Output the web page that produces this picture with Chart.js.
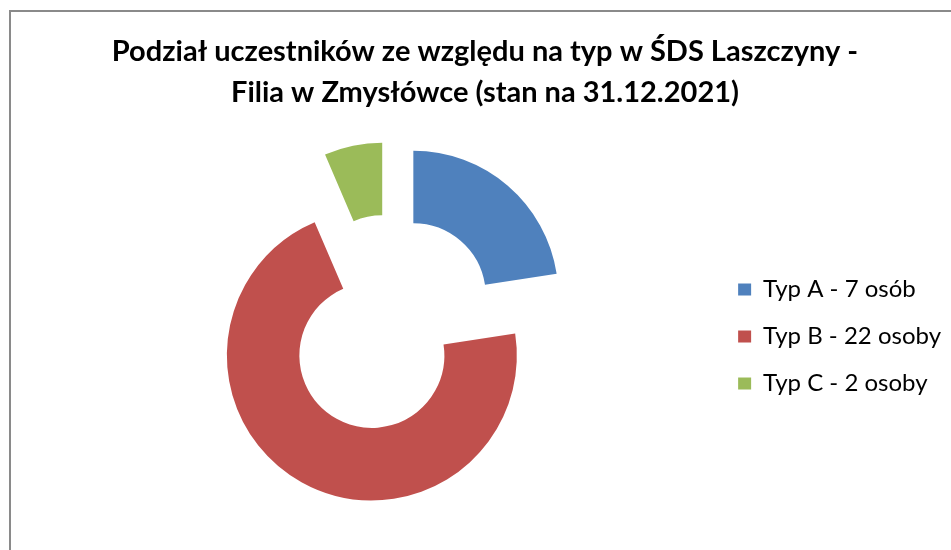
<!DOCTYPE html>
<html>
<head>
<meta charset="utf-8">
<script src="https://cdn.jsdelivr.net/npm/chart.js@4/dist/chart.umd.min.js"></script>
<style>
  html, body { margin: 0; padding: 0; background: #fff; overflow: hidden; }
  #frame { position: absolute; left: 9px; top: 10px; width: 980px; height: 600px; border: 2px solid #8a8a8a; box-sizing: border-box; }
  #wrap { position: absolute; left: 0; top: 0; width: 951px; height: 550px; }
</style>
</head>
<body>
<div id="frame"></div>
<div id="wrap"><canvas id="c" width="951" height="550"></canvas></div>
<script>
const titleLines = ['Podział uczestników ze względu na typ w ŚDS Laszczyny -', 'Filia w Zmysłówce (stan na 31.12.2021)'];
const categories = ['Typ A - 7 osób', 'Typ B - 22 osoby', 'Typ C - 2 osoby'];
const values = [7, 22, 2];
const colors = ['#4F81BD', '#C0504D', '#9BBB59'];
const explodeDistance = 36.5;

// Excel-style "exploded" slices: move every arc's centre along its bisector
// (no radius change, unlike Chart.js's built-in offset).
const explodePlugin = {
  id: 'explodeSlices',
  afterDatasetUpdate(chart, args) {
    const meta = chart.getDatasetMeta(args.index);
    meta.data.forEach(arc => {
      const mid = (arc.startAngle + arc.endAngle) / 2;
      arc.x += Math.cos(mid) * explodeDistance;
      arc.y += Math.sin(mid) * explodeDistance;
    });
  }
};

// centre the title over the whole frame (not just the area left of the legend)
const titleSpanPlugin = {
  id: 'titleSpan',
  afterLayout(chart) {
    const t = chart.titleBlock;
    if (t) { t.left = 19; t.right = 951; t.width = t.right - t.left; }
  }
};

new Chart(document.getElementById('c'), {
  type: 'doughnut',
  data: {
    labels: categories,
    datasets: [{
      data: values,
      backgroundColor: colors,
      borderWidth: 0,
      hoverOffset: 0,
      radius: 145,
      cutout: '50%',
      clip: false
    }]
  },
  plugins: [explodePlugin, titleSpanPlugin],
  options: {
    responsive: false,
    animation: false,
    events: [],
    layout: { padding: { left: 64, right: 0, top: 0, bottom: 23 } },
    plugins: {
      tooltip: { enabled: false },
      title: {
        display: true,
        text: titleLines,
        color: '#000',
        font: { family: 'Lato', size: 29, weight: 'bold', lineHeight: 1.414 },
        padding: { top: 31.5, bottom: 6.5 }
      },
      legend: {
        display: true,
        position: 'right',
        align: 'center',
        fullSize: false,
        title: { display: true, text: '', font: { size: 13, lineHeight: 2 }, padding: 0 },
        labels: {
          boxWidth: 13,
          boxHeight: 12,
          padding: 23,
          color: '#000',
          font: { family: 'Lato', size: 24 }
        }
      }
    }
  }
});
</script>
</body>
</html>
